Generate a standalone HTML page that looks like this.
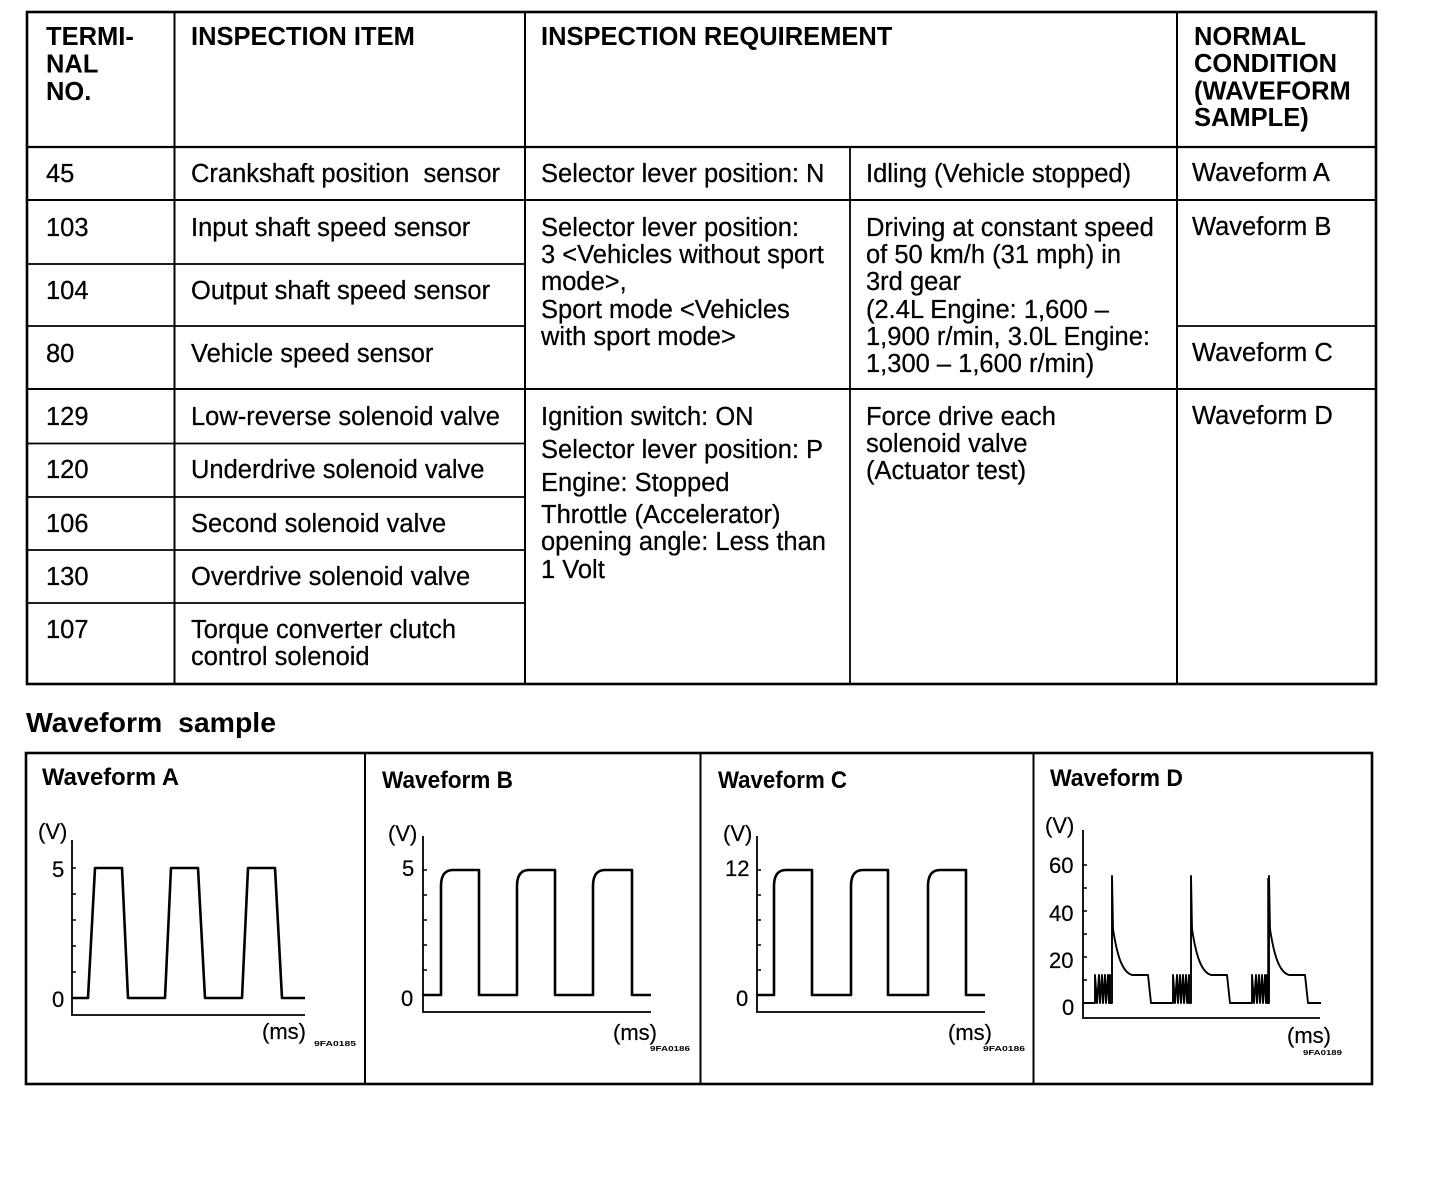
<!DOCTYPE html>
<html>
<head>
<meta charset="utf-8">
<style>
html,body{margin:0;padding:0;background:#fff;}
svg{display:block;}
text{font-family:"Liberation Sans",Arial,sans-serif;fill:#000;white-space:pre;}
.h{font-weight:bold;font-size:25.5px;}
.b{font-size:25.5px;stroke:#000;stroke-width:0.25px;}
.t{font-weight:bold;font-size:24px;}
.l{font-size:22px;stroke:#000;stroke-width:0.2px;}
.c{font-weight:bold;font-size:7.5px;}
</style>
</head>
<body>
<svg width="1456" height="1180" viewBox="0 0 1456 1180" xmlns="http://www.w3.org/2000/svg" xml:space="preserve">
<rect x="0" y="0" width="1456" height="1180" fill="#fff"/>

<!-- TABLE GRID -->
<g stroke="#000" fill="none" stroke-linecap="square">
  <rect x="27" y="12" width="1349" height="672" stroke-width="2.6"/>
  <line x1="174.5" y1="12" x2="174.5" y2="684" stroke-width="2"/>
  <line x1="525" y1="12" x2="525" y2="684" stroke-width="2"/>
  <line x1="850" y1="147" x2="850" y2="684" stroke-width="1.8"/>
  <line x1="1177" y1="12" x2="1177" y2="684" stroke-width="2"/>
  <line x1="27" y1="147" x2="1376" y2="147" stroke-width="2.2"/>
  <line x1="27" y1="200" x2="1376" y2="200" stroke-width="2"/>
  <line x1="27" y1="264" x2="525" y2="264" stroke-width="1.8"/>
  <line x1="27" y1="326" x2="525" y2="326" stroke-width="1.8"/>
  <line x1="1177" y1="326" x2="1376" y2="326" stroke-width="1.8"/>
  <line x1="27" y1="389" x2="1376" y2="389" stroke-width="2"/>
  <line x1="27" y1="443.5" x2="525" y2="443.5" stroke-width="1.8"/>
  <line x1="27" y1="497" x2="525" y2="497" stroke-width="1.8"/>
  <line x1="27" y1="550" x2="525" y2="550" stroke-width="1.8"/>
  <line x1="27" y1="603" x2="525" y2="603" stroke-width="1.8"/>
</g>

<!-- HEADER -->
<text class="h" x="46" y="45">TERMI-</text>
<text class="h" x="46" y="72.5">NAL</text>
<text class="h" x="46" y="100">NO.</text>
<text class="h" x="191" y="45">INSPECTION ITEM</text>
<text class="h" x="541" y="45">INSPECTION REQUIREMENT</text>
<text class="h" x="1194" y="45">NORMAL</text>
<text class="h" x="1194" y="72">CONDITION</text>
<text class="h" x="1194" y="99.5">(WAVEFORM</text>
<text class="h" x="1194" y="126">SAMPLE)</text>

<!-- ROW 45 -->
<text class="b" x="46" y="182">45</text>
<text class="b" x="191" y="182">Crankshaft position  sensor</text>
<text class="b" x="541" y="182">Selector lever position: N</text>
<text class="b" x="866" y="182">Idling (Vehicle stopped)</text>
<text class="b" x="1192" y="181">Waveform A</text>

<!-- ROWS 103/104/80 -->
<text class="b" x="46" y="236">103</text>
<text class="b" x="191" y="236">Input shaft speed sensor</text>
<text class="b" x="46" y="299">104</text>
<text class="b" x="191" y="299">Output shaft speed sensor</text>
<text class="b" x="46" y="362">80</text>
<text class="b" x="191" y="362">Vehicle speed sensor</text>

<text class="b" x="541" y="236">Selector lever position:</text>
<text class="b" x="541" y="263">3 &lt;Vehicles without sport</text>
<text class="b" x="541" y="290">mode&gt;,</text>
<text class="b" x="541" y="318">Sport mode &lt;Vehicles</text>
<text class="b" x="541" y="345">with sport mode&gt;</text>

<text class="b" x="866" y="236">Driving at constant speed</text>
<text class="b" x="866" y="263">of 50 km/h (31 mph) in</text>
<text class="b" x="866" y="290">3rd gear</text>
<text class="b" x="866" y="318">(2.4L Engine: 1,600 –</text>
<text class="b" x="866" y="345">1,900 r/min, 3.0L Engine:</text>
<text class="b" x="866" y="372">1,300 – 1,600 r/min)</text>

<text class="b" x="1192" y="235">Waveform B</text>
<text class="b" x="1192" y="361">Waveform C</text>

<!-- ROWS 129.. -->
<text class="b" x="46" y="425">129</text>
<text class="b" x="191" y="425">Low-reverse solenoid valve</text>
<text class="b" x="46" y="478">120</text>
<text class="b" x="191" y="478">Underdrive solenoid valve</text>
<text class="b" x="46" y="532">106</text>
<text class="b" x="191" y="532">Second solenoid valve</text>
<text class="b" x="46" y="585">130</text>
<text class="b" x="191" y="585">Overdrive solenoid valve</text>
<text class="b" x="46" y="638">107</text>
<text class="b" x="191" y="638">Torque converter clutch</text>
<text class="b" x="191" y="665">control solenoid</text>

<text class="b" x="541" y="425">Ignition switch: ON</text>
<text class="b" x="541" y="458">Selector lever position: P</text>
<text class="b" x="541" y="491">Engine: Stopped</text>
<text class="b" x="541" y="523">Throttle (Accelerator)</text>
<text class="b" x="541" y="550">opening angle: Less than</text>
<text class="b" x="541" y="578">1 Volt</text>

<text class="b" x="866" y="425">Force drive each</text>
<text class="b" x="866" y="452">solenoid valve</text>
<text class="b" x="866" y="479">(Actuator test)</text>

<text class="b" x="1192" y="424">Waveform D</text>

<!-- WAVEFORM SAMPLE HEADING -->
<text x="26" y="732" style="font-weight:bold;font-size:28px" textLength="250" lengthAdjust="spacingAndGlyphs">Waveform  sample</text>

<!-- PANEL BOX -->
<g stroke="#000" fill="none">
  <rect x="26" y="753" width="1346" height="331" stroke-width="2.6"/>
  <line x1="365" y1="753" x2="365" y2="1084" stroke-width="2"/>
  <line x1="700.5" y1="753" x2="700.5" y2="1084" stroke-width="2"/>
  <line x1="1033.5" y1="753" x2="1033.5" y2="1084" stroke-width="2"/>
</g>

<!-- WAVEFORM A -->
<text class="t" x="42" y="785" textLength="137" lengthAdjust="spacingAndGlyphs">Waveform A</text>
<text class="l" x="38" y="839">(V)</text>
<text class="l" x="52" y="877">5</text>
<text class="l" x="52" y="1007">0</text>
<text class="l" x="262" y="1039">(ms)</text>
<text class="c" x="314" y="1046" textLength="42" lengthAdjust="spacingAndGlyphs">9FA0185</text>
<g stroke="#000" fill="none">
  <path d="M72,840 V1015 H305" stroke-width="1.8"/>
  <path d="M72,868 H76 M72,894 H76 M72,920 H76 M72,946 H76 M72,972 H76 M72,998 H76" stroke-width="1.5"/>
  <path d="M72,998 H88 L95,868 H122 L128,998 H165 L171,868 H198 L205,998 H242 L248,868 H275 L282,998 H305" stroke-width="2.6" stroke-linejoin="round"/>
</g>

<!-- WAVEFORM B -->
<text class="t" x="382" y="788" textLength="131" lengthAdjust="spacingAndGlyphs">Waveform B</text>
<text class="l" x="388" y="841">(V)</text>
<text class="l" x="402" y="876">5</text>
<text class="l" x="401" y="1006">0</text>
<text class="l" x="613" y="1040">(ms)</text>
<text class="c" x="650" y="1051" textLength="40" lengthAdjust="spacingAndGlyphs">9FA0186</text>
<g stroke="#000" fill="none">
  <path d="M423,836 V1012 H651" stroke-width="1.8"/>
  <path d="M423,870 H427 M423,895 H427 M423,920 H427 M423,945 H427 M423,970 H427 M423,995 H427" stroke-width="1.5"/>
  <path d="M423,995 H441 V886 Q441,870 453,870 H479 V995 H517 V886 Q517,870 529,870 H555 V995 H593 V886 Q593,870 605,870 H632 V995 H651" stroke-width="2.6" stroke-linejoin="round"/>
</g>

<!-- WAVEFORM C -->
<text class="t" x="718" y="788" textLength="129" lengthAdjust="spacingAndGlyphs">Waveform C</text>
<text class="l" x="723" y="841">(V)</text>
<text class="l" x="725" y="876">12</text>
<text class="l" x="736" y="1006">0</text>
<text class="l" x="948" y="1040">(ms)</text>
<text class="c" x="983" y="1051" textLength="42" lengthAdjust="spacingAndGlyphs">9FA0186</text>
<g stroke="#000" fill="none">
  <path d="M757,836 V1012 H985" stroke-width="1.8"/>
  <path d="M757,870 H761 M757,895 H761 M757,920 H761 M757,945 H761 M757,970 H761 M757,995 H761" stroke-width="1.5"/>
  <path d="M757,995 H774 V886 Q774,870 786,870 H812 V995 H851 V886 Q851,870 863,870 H888 V995 H928 V886 Q928,870 940,870 H966 V995 H985" stroke-width="2.6" stroke-linejoin="round"/>
</g>

<!-- WAVEFORM D -->
<text class="t" x="1050" y="786" textLength="133" lengthAdjust="spacingAndGlyphs">Waveform D</text>
<text class="l" x="1045" y="833">(V)</text>
<text class="l" x="1049" y="873">60</text>
<text class="l" x="1049" y="921">40</text>
<text class="l" x="1049" y="968">20</text>
<text class="l" x="1062" y="1015">0</text>
<text class="l" x="1287" y="1043">(ms)</text>
<text class="c" x="1303" y="1055" textLength="39" lengthAdjust="spacingAndGlyphs">9FA0189</text>
<g stroke="#000" fill="none">
  <path d="M1083,830 V1018 H1320" stroke-width="1.8"/>
  <path d="M1083,865 H1087 M1083,888 H1087 M1083,911 H1087 M1083,934 H1087 M1083,957 H1087 M1083,980 H1087 M1083,1003 H1087" stroke-width="1.5"/>
  <path d="M1083,1003 H1095 V975 L1097,1003 L1099,975 L1100,1003 L1102,975 L1103,1003 L1105,975 L1106,1003 L1108,975 L1109,1003 L1110,975 V1003 H1112 V876 L1113,929 C1117,955 1122,972 1132,975 H1148 L1151,1003 H1173 V975 L1175,1003 L1177,975 L1178,1003 L1180,975 L1181,1003 L1183,975 L1184,1003 L1186,975 L1187,1003 L1189,975 V1003 H1191 V876 L1192,929 C1196,955 1201,972 1211,975 H1227 L1230,1003 H1252 V975 L1254,1003 L1256,975 L1257,1003 L1259,975 L1260,1003 L1262,975 L1263,1003 L1265,975 L1266,1003 L1267,975 V1003 H1269 V876 L1270,929 C1274,955 1279,972 1289,975 H1305 L1308,1003 H1321" stroke-width="1.9" stroke-linejoin="round"/>
  <path d="M1268,1003 V878" stroke-width="1.5"/>
</g>
</svg>
</body>
</html>
